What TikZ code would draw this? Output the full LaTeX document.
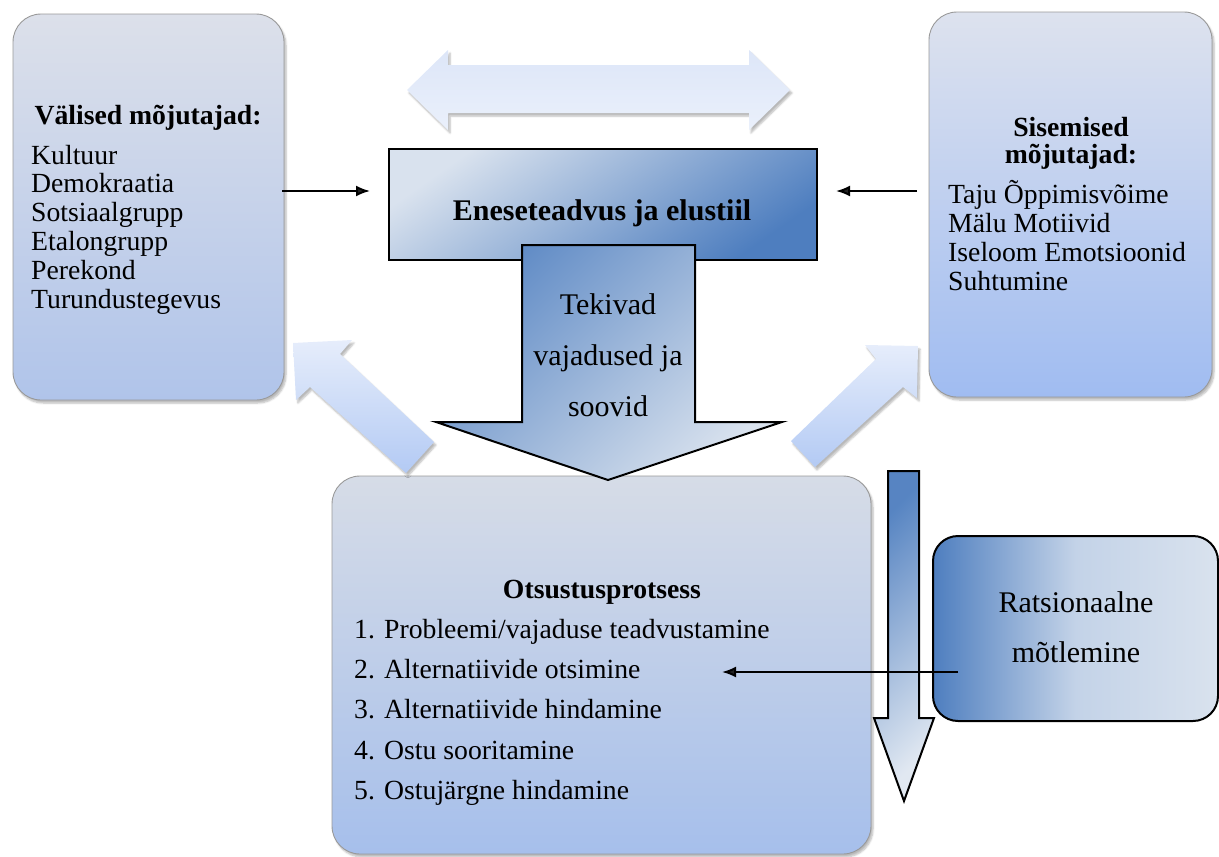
\documentclass[tikz,border=0pt]{standalone}
\usepackage{fontspec}
\setmainfont{Liberation Serif}
\usetikzlibrary{arrows.meta,shadows.blur}

\definecolor{paleTop}{HTML}{DDE6F8}
\definecolor{paleBot}{HTML}{EAF0FB}
\definecolor{diagTop}{HTML}{E6EDFB}
\definecolor{diagBot}{HTML}{B3CAF4}
\definecolor{sideTop}{HTML}{DCE0EA}
\definecolor{sideBot}{HTML}{B0C4EA}
\definecolor{innTop}{HTML}{DDE2EE}
\definecolor{innBot}{HTML}{A0BCF1}
\definecolor{decTop}{HTML}{D6DCE7}
\definecolor{decBot}{HTML}{A6BFEB}
\definecolor{steelLight}{HTML}{D9E2EE}
\definecolor{steelDark}{HTML}{4E7EBF}

\tikzset{
  softshadow/.style={blur shadow={shadow xshift=2pt, shadow yshift=-3pt,
      shadow blur steps=6, shadow opacity=28}},
  panel/.style={draw=black!40, line width=0.9pt, rounded corners=28pt,
      inner sep=0pt, outer sep=0pt, softshadow},
  paleshape/.style={draw=none, softshadow},
  darkshape/.style={draw=black, line width=2pt, line join=miter},
  conn/.style={line width=2pt, -{Latex[length=14pt,width=11pt]}},
  body/.style={inner sep=0pt, font=\fontsize{27.7}{28.8}\selectfont},
  bodyhead/.style={body, font=\fontsize{27.7}{28.8}\selectfont\bfseries},
  large/.style={inner sep=0pt, font=\fontsize{30}{36}\selectfont},
}

\begin{document}
\begin{tikzpicture}[x=1pt,y=-1pt]
\useasboundingbox (0,0) rectangle (1219,857);

% double-headed arrow at the top
\shade[paleshape, top color=paleTop, bottom color=paleBot]
  (407,90) -- (448,50) -- (448,65) -- (749,65) -- (749,50) -- (790,90)
  -- (749,130) -- (749,113) -- (448,113) -- (448,130) -- cycle;

% outer influences
\node[panel, top color=sideTop, bottom color=sideBot,
      minimum width=271, minimum height=386] (ext) at (148.5,207) {};
\node[bodyhead, anchor=base] (ext-h) at (148,124) {Välised mõjutajad:};
\foreach \t [count=\i] in {Kultuur,Demokraatia,Sotsiaalgrupp,Etalongrupp,Perekond,Turundustegevus}
  \node[body, anchor=base west] (ext-\i) at (31,{164+28.8*(\i-1)}) {\t};

% inner influences
\node[panel, top color=innTop, bottom color=innBot,
      minimum width=283, minimum height=385] (inn) at (1070.5,204.5) {};
\node[bodyhead, anchor=base] (inn-h1) at (1071,136) {Sisemised};
\node[bodyhead, anchor=base] (inn-h2) at (1071,163) {mõjutajad:};
\foreach \t [count=\i] in {Taju Õppimisvõime,Mälu Motiivid,Iseloom Emotsioonid,Suhtumine}
  \node[body, anchor=base west] (inn-\i) at (948,{203+29*(\i-1)}) {\t};

% decision process
\node[panel, top color=decTop, bottom color=decBot,
      minimum width=539, minimum height=378] (dec) at (601.5,665) {};
\node[bodyhead, anchor=base] (dec-h) at (602,598) {Otsustusprotsess};
\foreach \t [count=\i] in {1. Probleemi/vajaduse teadvustamine,2. Alternatiivide otsimine,3. Alternatiivide hindamine,4. Ostu sooritamine,5. Ostujärgne hindamine}
  \node[body, anchor=base west] (dec-\i) at (354,{638+40.4*(\i-1)}) {\t};

% feedback arrows towards both influence panels
\shade[paleshape, top color=diagTop, bottom color=diagBot]
  (293,343) -- (352,340) -- (340,354) -- (434,442) -- (406,473)
  -- (310,387) -- (296,400) -- cycle;
\shade[paleshape, top color=diagTop, bottom color=diagBot]
  (918,346) -- (917,398) -- (903,387) -- (815,467) -- (791,441)
  -- (876,359) -- (865,345) -- cycle;

% self-awareness and lifestyle
\node[darkshape, top color=steelLight, bottom color=steelDark, shading angle=35,
      minimum width=428, minimum height=111, inner sep=0pt] (self) at (603,204.5) {};

% needs and wishes arrow
\shade[darkshape, top color=steelDark!90, bottom color=steelLight, shading angle=45]
  (522,245) -- (695,245) -- (695,422) -- (782,422) -- (608,480)
  -- (436,422) -- (522,422) -- cycle;
\node[large, font=\fontsize{30}{36}\selectfont\bfseries, anchor=base] (self-t) at (602,220) {Eneseteadvus ja elustiil};
\node[large, anchor=base] (need-1) at (608,314) {Tekivad};
\node[large, anchor=base] (need-2) at (608,365) {vajadused ja};
\node[large, anchor=base] (need-3) at (608,416) {soovid};

% slim downward arrow
\shade[darkshape, top color=steelDark!95, bottom color=steelLight!80!white, shading angle=45]
  (888,471) -- (919,471) -- (919,718) -- (934,718) -- (904,801)
  -- (874,718) -- (888,718) -- cycle;

% rational thinking
\node[darkshape, rounded corners=25pt, left color=steelDark, right color=steelLight,
      middle color=steelLight!70!steelDark!75,
      minimum width=285, minimum height=185, inner sep=0pt] (rat) at (1075.5,628.5) {};
\node[large, anchor=base] (rat-1) at (1076,612) {Ratsionaalne};
\node[large, anchor=base] (rat-2) at (1076,662) {mõtlemine};

% connectors
\coordinate (ext-out) at (282,191);
\coordinate (self-inl) at (370,191);
\coordinate (inn-out) at (917,191);
\coordinate (self-inr) at (836,191);
\coordinate (rat-out) at (958,672);
\coordinate (dec-in) at (722,672);
\draw[conn] (ext-out) -- (self-inl);
\draw[conn] (inn-out) -- (self-inr);
\draw[conn] (rat-out) -- (dec-in);
\end{tikzpicture}
\end{document}
